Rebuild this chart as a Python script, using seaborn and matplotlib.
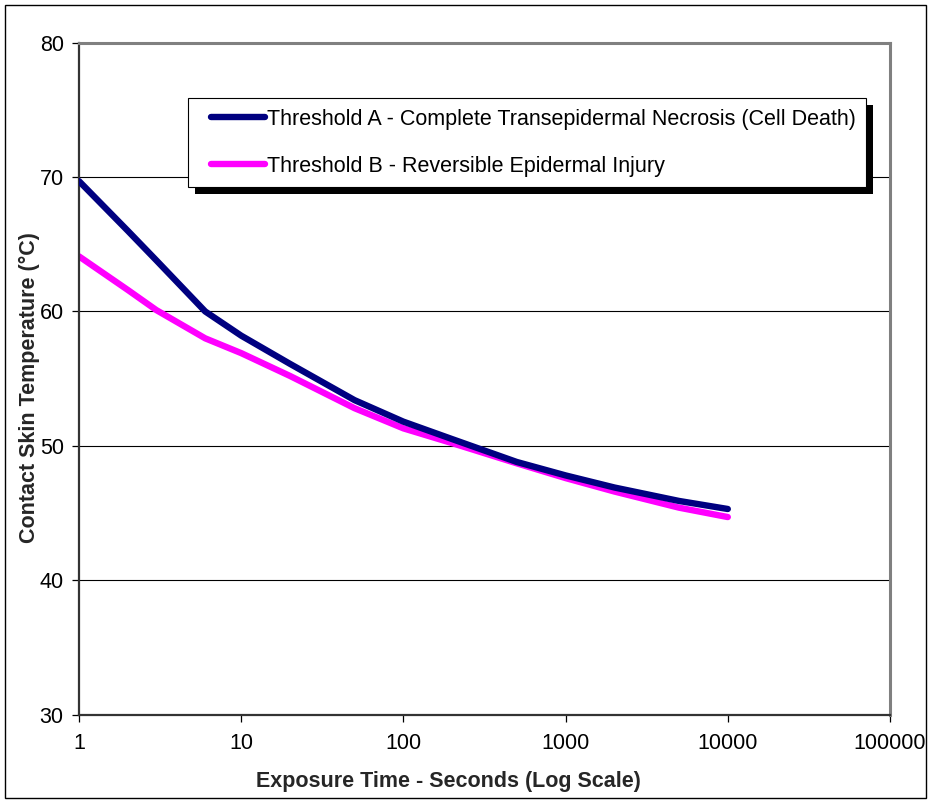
import pandas as pd
import matplotlib.pyplot as plt
import matplotlib.patches as mpatches
from matplotlib.lines import Line2D
from matplotlib.legend_handler import HandlerLine2D
from matplotlib.ticker import FixedLocator, FixedFormatter, NullLocator
import seaborn as sns

# --- DATA ---
EXPOSURE_S = [1, 2, 3, 6, 10, 20, 50, 100, 200, 500, 1000, 2000, 5000, 10000]
THRESHOLD_A = [69.7, 66.0, 63.8, 60.0, 58.2, 56.1, 53.4, 51.8, 50.5, 48.8, 47.8, 46.9, 45.9, 45.3]
THRESHOLD_B = [64.1, 61.6, 60.1, 58.0, 56.9, 55.2, 52.8, 51.3, 50.2, 48.7, 47.6, 46.6, 45.4, 44.7]

LABEL_A = "Threshold A - Complete Transepidermal Necrosis (Cell Death)"
LABEL_B = "Threshold B - Reversible Epidermal Injury"

X_TICKS = [1, 10, 100, 1000, 10000, 100000]
X_TICK_LABELS = ["1", "10", "100", "1000", "10000", "100000"]
Y_TICKS = [30, 40, 50, 60, 70, 80]

df = pd.DataFrame({"Exposure": EXPOSURE_S, "A": THRESHOLD_A, "B": THRESHOLD_B})

sns.set_theme(style="white")
plt.rcParams['font.family'] = ['Liberation Sans', 'DejaVu Sans']

FS = 15.5

fig = plt.figure(figsize=(9.29, 8), dpi=100)
ax = fig.add_axes([79 / 929, 1 - 714.6 / 800, 811 / 929, (714.6 - 42.7) / 800])

sns.lineplot(data=df, x="Exposure", y="A", ax=ax, color="#000080", linewidth=4.6,
             label=LABEL_A, solid_capstyle="round", solid_joinstyle="round", zorder=3)
sns.lineplot(data=df, x="Exposure", y="B", ax=ax, color="#FF00FF", linewidth=4.6,
             label=LABEL_B, solid_capstyle="round", solid_joinstyle="round", zorder=2)

ax.set_xscale("log")
ax.set_xlim(1, 100000)
ax.set_ylim(30, 80)
ax.xaxis.set_major_locator(FixedLocator(X_TICKS))
ax.xaxis.set_major_formatter(FixedFormatter(X_TICK_LABELS))
ax.xaxis.set_minor_locator(NullLocator())
ax.set_yticks(Y_TICKS)

# Excel-style gridlines: horizontal only
for yv in [40, 50, 60, 70]:
    ax.axhline(yv, color="#000000", linewidth=0.8, zorder=1)

ax.tick_params(axis="both", direction="out", length=5, width=0.9, color="#000000",
               labelsize=FS, pad=6, bottom=True, left=True, labelcolor="black")
ax.tick_params(axis="x", pad=8)

for side in ["left", "bottom"]:
    ax.spines[side].set_color("#333333")
    ax.spines[side].set_linewidth(1.6)
for side in ["top", "right"]:
    ax.spines[side].set_color("#808080")
    ax.spines[side].set_linewidth(2.2)

ax.set_xlabel("Exposure Time - Seconds (Log Scale)", fontsize=FS, fontweight="bold")
ax.set_ylabel("Contact Skin Temperature (°C)", fontsize=FS, fontweight="bold")
ax.yaxis.set_label_coords(-0.048, 0.486)
ax.xaxis.set_label_coords(0.456, -0.084)

# legend: handle line starts a little inside the box, text right after it
leg = ax.legend(loc="upper left", bbox_to_anchor=(188 / 929, 1 - 98 / 800),
                bbox_transform=fig.transFigure, borderaxespad=0, frameon=True,
                fancybox=False, edgecolor="black", fontsize=FS,
                handlelength=3.08, handletextpad=0.08, labelspacing=1.2, borderpad=0.5,
                handler_map={Line2D: HandlerLine2D(xpad=0.57)})
leg.get_frame().set_linewidth(0.8)
leg.get_frame().set_alpha(1)
leg.set_zorder(6)
for t in leg.get_texts():
    t.set_color("black")

# solid black drop shadow behind the legend box
fig.canvas.draw()
bb = leg.get_window_extent()
shadow = mpatches.Rectangle((bb.x0 + 7, bb.y0 - 7), bb.width, bb.height,
                            transform=None, facecolor="black", edgecolor="none", zorder=5.5)
ax.add_artist(shadow)

# outer chart border
fig.patches.append(mpatches.Rectangle((5 / 929, 2 / 800), 921 / 929, 793 / 800,
                                      transform=fig.transFigure, fill=False,
                                      edgecolor="black", linewidth=1.0))

plt.savefig("out.png", dpi=100)
